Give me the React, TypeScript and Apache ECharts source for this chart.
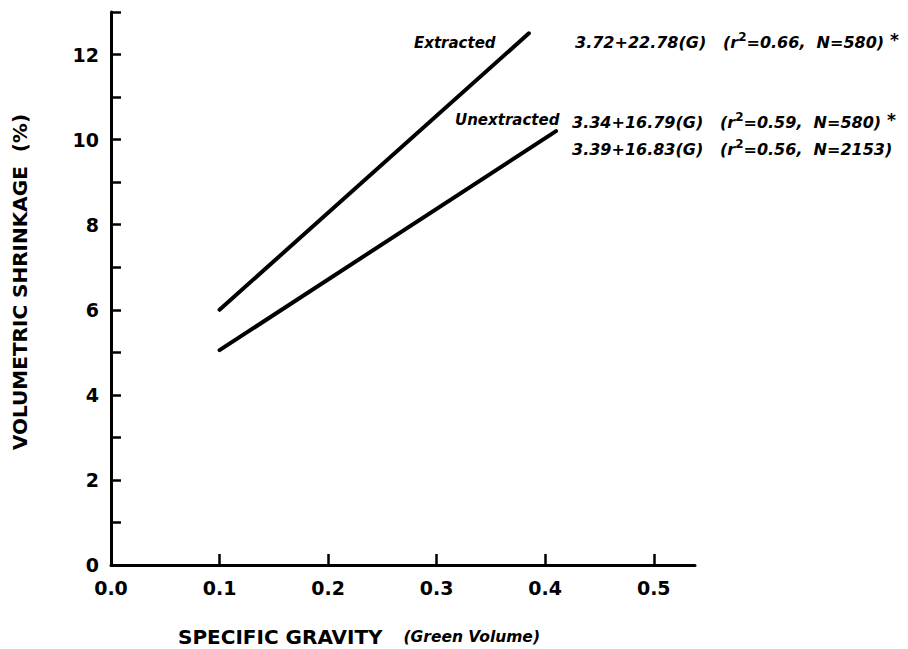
import React, { useEffect, useRef } from "react";
import * as echarts from "echarts";

const xTickValues = [0, 0.1, 0.2, 0.3, 0.4, 0.5];
const extractedLine = [
  [0.1, 6.0],
  [0.385, 12.5],
];
const unextractedLine = [
  [0.1, 5.05],
  [0.41, 10.2],
];
const eqExtracted = ["3.72+22.78(G)", "0.66", "580"];
const eqUnextracted = ["3.34+16.79(G)", "0.59", "580"];
const eqAll = ["3.39+16.83(G)", "0.56", "2153"];

const FONT = "DejaVu Sans";

function eqText(eq: string[], star: boolean) {
  return (
    "{m|" + eq[0] + "   (r}{s|2}{m|=" + eq[1] + ",  N=" + eq[2] + ")}" + (star ? "{a| *}" : "")
  );
}

const eqRich = {
  m: { fontFamily: FONT, fontSize: 16, fontWeight: "bold", fontStyle: "italic", fill: "#000", lineHeight: 22 },
  s: { fontFamily: FONT, fontSize: 12, fontWeight: "bold", fill: "#000", verticalAlign: "top", lineHeight: 22 },
  a: { fontFamily: FONT, fontSize: 17, fontWeight: "bold", fill: "#000", verticalAlign: "top", lineHeight: 22 },
};

export default function App() {
  const ref = useRef<HTMLDivElement>(null);
  useEffect(() => {
    if (!ref.current) return;
    const chart = echarts.init(ref.current, undefined, { renderer: "svg" });
    const lineStyle = { color: "#000", width: 4, cap: "round" as const };
    chart.setOption({
      animation: false,
      backgroundColor: "#fff",
      grid: { left: 111, right: 213, top: 12, bottom: 84, containLabel: false },
      xAxis: {
        type: "value",
        min: 0,
        max: 0.538,
        interval: 0.1,
        splitLine: { show: false },
        axisLine: { show: true, onZero: false, lineStyle: { color: "#000", width: 3 } },
        axisTick: { show: true, inside: true, length: 11, lineStyle: { color: "#000", width: 2.5 }, customValues: xTickValues },
        axisLabel: {
          customValues: xTickValues,
          formatter: (v: number) => v.toFixed(1),
          color: "#000",
          fontFamily: FONT,
          fontWeight: "bold",
          fontSize: 19,
          margin: 13,
        },
      },
      yAxis: {
        type: "value",
        min: 0,
        max: 13,
        interval: 1,
        splitLine: { show: false },
        axisLine: { show: true, lineStyle: { color: "#000", width: 3 } },
        axisTick: { show: true, inside: true, length: 10, lineStyle: { color: "#000", width: 2.5 } },
        axisLabel: {
          formatter: (v: number) => (v % 2 === 0 ? String(v) : ""),
          color: "#000",
          fontFamily: FONT,
          fontWeight: "bold",
          fontSize: 19,
          margin: 12,
        },
      },
      series: [
        { type: "line", data: extractedLine, showSymbol: false, lineStyle, silent: true },
        { type: "line", data: unextractedLine, showSymbol: false, lineStyle, silent: true },
      ],
      graphic: [
        {
          type: "text",
          x: 20,
          y: 282,
          rotation: Math.PI / 2,
          style: {
            text: "VOLUMETRIC SHRINKAGE  (%)",
            fontFamily: FONT,
            fontSize: 20,
            fontWeight: "bold",
            fill: "#000",
            align: "center",
            verticalAlign: "middle",
          },
        },
        {
          type: "text",
          x: 178,
          y: 637,
          style: {
            text: "{a|SPECIFIC GRAVITY   }{b|(Green Volume)}",
            verticalAlign: "middle",
            rich: {
              a: { fontFamily: FONT, fontSize: 20, fontWeight: "bold", fill: "#000" },
              b: { fontFamily: FONT, fontSize: 15.5, fontWeight: "bold", fontStyle: "italic", fill: "#000" },
            },
          },
        },
        {
          type: "text",
          x: 414,
          y: 43,
          style: {
            text: "Extracted",
            fontFamily: FONT,
            fontSize: 15,
            fontWeight: "bold",
            fontStyle: "italic",
            fill: "#000",
            verticalAlign: "middle",
          },
        },
        {
          type: "text",
          x: 455,
          y: 120,
          style: {
            text: "Unextracted",
            fontFamily: FONT,
            fontSize: 15,
            fontWeight: "bold",
            fontStyle: "italic",
            fill: "#000",
            verticalAlign: "middle",
          },
        },
        { type: "text", x: 575, y: 42, style: { text: eqText(eqExtracted, true), rich: eqRich, verticalAlign: "middle" } },
        { type: "text", x: 572, y: 122, style: { text: eqText(eqUnextracted, true), rich: eqRich, verticalAlign: "middle" } },
        { type: "text", x: 572, y: 149, style: { text: eqText(eqAll, false), rich: eqRich, verticalAlign: "middle" } },
      ],
    });
    return () => chart.dispose();
  }, []);
  return <div ref={ref} style={{ position: "absolute", left: 0, top: 0, width: 908, height: 649 }} />;
}
